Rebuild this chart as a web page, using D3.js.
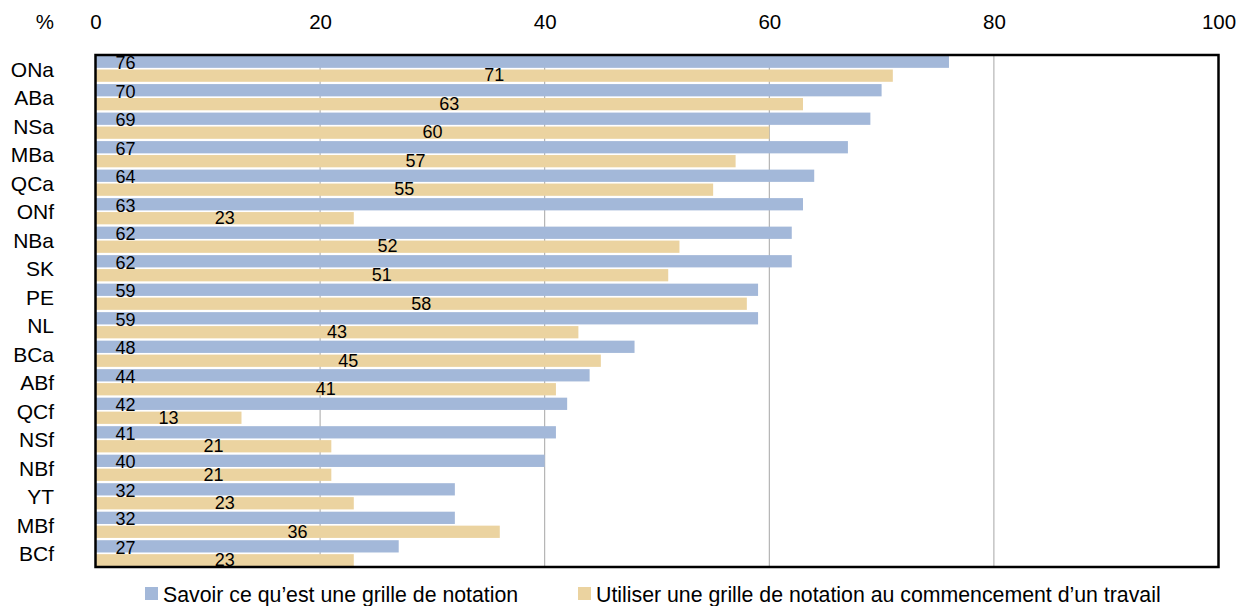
<!DOCTYPE html>
<html>
<head>
<meta charset="utf-8">
<script src="https://cdn.jsdelivr.net/npm/d3@7"></script>
<style>
  html, body { margin: 0; padding: 0; background: #fff; }
  svg { display: block; font-family: "Liberation Sans", Arial, sans-serif; }
</style>
</head>
<body>
<svg id="chart" width="1244" height="606"></svg>
<script>
// Provinces / language sectors
const categories = ["ONa","ABa","NSa","MBa","QCa","ONf","NBa","SK","PE","NL","BCa","ABf","QCf","NSf","NBf","YT","MBf","BCf"];
// Know what a scoring rubric is (%)
const knowValues = [76,70,69,67,64,63,62,62,59,59,48,44,42,41,40,32,32,27];
// Use a scoring rubric at the start of a piece of work (%)
const useValues = [71,63,60,57,55,23,52,51,58,43,45,41,13,21,21,23,36,23];
const seriesNames = ["Savoir ce qu’est une grille de notation", "Utiliser une grille de notation au commencement d’un travail"];
const seriesKeys = ["know", "use"];
const xTicks = [0,20,40,60,80,100];

const colors = { know: "#a3b8d9", use: "#ebd3a0" };

const rows = categories.map((c, i) => ({ cat: c, know: knowValues[i], use: useValues[i] }));

const svg = d3.select("#chart");
const plot = { left: 95.5, right: 1218.5, top: 55, bottom: 567 };

const x = d3.scaleLinear().domain([0, 100]).range([plot.left, plot.right]);
const y = d3.scaleBand().domain(categories).range([plot.top, plot.bottom])
  .paddingInner(0.08).paddingOuter(0.02);
const ySub = d3.scaleBand().domain(seriesKeys).range([0, y.bandwidth()]).paddingInner(0.12);

// Gridlines
svg.append("g")
  .selectAll("line")
  .data(xTicks.filter(t => t > 0 && t < 100))
  .join("line")
  .attr("x1", d => x(d)).attr("x2", d => x(d))
  .attr("y1", plot.top).attr("y2", plot.bottom)
  .attr("stroke", "#a6a6a6").attr("stroke-width", 1);

// Bars
const groups = svg.append("g")
  .selectAll("g")
  .data(rows)
  .join("g")
  .attr("transform", d => `translate(0,${y(d.cat)})`);

groups.selectAll("rect")
  .data(d => seriesKeys.map(k => ({ key: k, value: d[k] })))
  .join("rect")
  .attr("x", x(0))
  .attr("y", d => ySub(d.key))
  .attr("width", d => x(d.value) - x(0))
  .attr("height", ySub.bandwidth())
  .attr("fill", d => colors[d.key]);

// Value labels: first series near the base, second series centred on the bar
groups.append("text")
  .attr("x", x(0) + 30)
  .attr("y", ySub("know") + ySub.bandwidth() / 2 + 1)
  .attr("dy", "0.35em")
  .attr("text-anchor", "middle")
  .attr("font-size", 18)
  .attr("fill", "#000")
  .text(d => d.know);

groups.append("text")
  .attr("x", d => (x(0) + x(d.use)) / 2)
  .attr("y", ySub("use") + ySub.bandwidth() / 2 - 0.5)
  .attr("dy", "0.35em")
  .attr("text-anchor", "middle")
  .attr("font-size", 18)
  .attr("fill", "#000")
  .text(d => d.use);

// Plot frame
svg.append("rect")
  .attr("x", plot.left).attr("y", plot.top)
  .attr("width", plot.right - plot.left).attr("height", plot.bottom - plot.top)
  .attr("fill", "none").attr("stroke", "#000").attr("stroke-width", 2.5);

// Top axis
const xAxis = svg.append("g")
  .attr("transform", `translate(0,${plot.top})`)
  .call(d3.axisTop(x).tickValues(xTicks).tickSize(0).tickPadding(26.5).tickFormat(d3.format("d")));
xAxis.select(".domain").remove();
xAxis.selectAll("text").attr("font-size", 20.5).attr("font-family", "'Liberation Sans', Arial, sans-serif").attr("fill", "#000");

svg.append("text")
  .attr("x", 54).attr("y", 21.5).attr("dy", "0.35em")
  .attr("text-anchor", "end").attr("font-size", 20.5).attr("fill", "#000")
  .text("%");

// Category axis
const yAxis = svg.append("g")
  .attr("transform", `translate(54,0)`)
  .call(d3.axisLeft(y).tickSize(0).tickPadding(0));
yAxis.select(".domain").remove();
yAxis.selectAll("text").attr("font-size", 21).attr("font-family", "'Liberation Sans', Arial, sans-serif").attr("fill", "#000")
  .attr("dy", "0.38em");

// Legend
const legendItems = [
  { key: "know", name: seriesNames[0], x: 145 },
  { key: "use", name: seriesNames[1], x: 578 }
];
const legend = svg.append("g").selectAll("g").data(legendItems).join("g")
  .attr("transform", d => `translate(${d.x},587)`);
legend.append("rect").attr("width", 13).attr("height", 13).attr("fill", d => colors[d.key]);
legend.append("text")
  .attr("x", 18).attr("y", 7).attr("dy", "0.36em")
  .attr("font-size", 21.3).attr("fill", "#000")
  .text(d => d.name);
</script>
</body>
</html>
